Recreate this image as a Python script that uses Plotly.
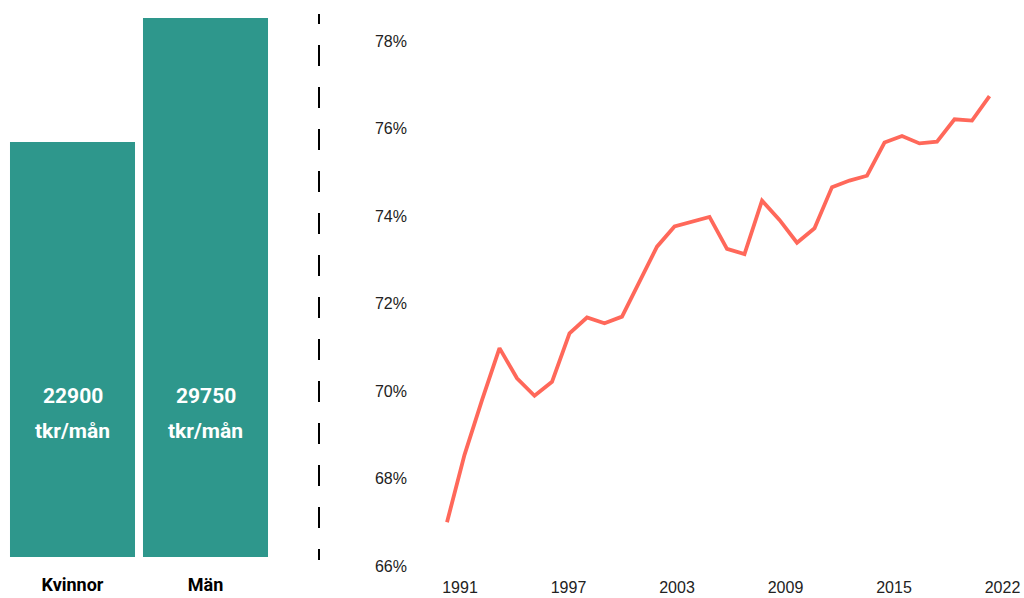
import plotly.graph_objects as go

# ---- data ----
genders = ["Kvinnor", "Män"]
salaries = [22900, 29750]
salary_unit = "tkr/mån"

years = list(range(1991, 2023))
share = [67.0, 68.54, 69.79, 70.98, 70.29, 69.89, 70.21, 71.32, 71.68, 71.55,
         71.70, 72.50, 73.30, 73.76, 73.87, 73.98, 73.25, 73.13, 74.35, 73.91,
         73.39, 73.72, 74.66, 74.81, 74.92, 75.68, 75.83, 75.66, 75.70, 76.21,
         76.18, 76.74]
year_labels = ["1991", "1997", "2003", "2009", "2015", "2022"]
pct_ticks = [66, 68, 70, 72, 74, 76, 78]

W, H = 1024, 598
TEAL = "rgb(46,151,140)"
CORAL = "rgb(255,104,90)"

def py(p):
    return 1 - p / H

def px(p):
    return p / W

fig = go.Figure()
fig.add_trace(go.Bar(x=genders, y=salaries, marker=dict(color=TEAL, line=dict(width=0)),
                     xaxis="x", yaxis="y", hoverinfo="skip", showlegend=False))
fig.add_trace(go.Scatter(x=years, y=share, mode="lines",
                         line=dict(color=CORAL, width=3.8),
                         xaxis="x2", yaxis="y2", showlegend=False))

# evenly spaced year tick labels across the span
span = years[-1] - years[0]
tickpos = [years[0] + i * span / (len(year_labels) - 1) for i in range(len(year_labels))]

annotations = []
for g, v in zip(genders, salaries):
    annotations.append(dict(x=g, y=py(396), xref="x", yref="paper", text=f"<b>{v}</b>",
                            showarrow=False, yanchor="middle",
                            font=dict(family="Roboto", size=21, color="white")))
    annotations.append(dict(x=g, y=py(431), xref="x", yref="paper", text=f"<b>{salary_unit}</b>",
                            showarrow=False, yanchor="middle",
                            font=dict(family="Roboto", size=21, color="white")))

# dash pattern: partial first dash then regular 21/21
dash = "10px,21px," + ",".join(["21px,21px"] * 14)

fig.update_layout(
    width=W, height=H, autosize=False,
    margin=dict(l=0, r=0, t=0, b=0, pad=0, autoexpand=False),
    paper_bgcolor="white", plot_bgcolor="white",
    bargap=0.06,
    xaxis=dict(domain=[px(6), px(272)], range=[-0.5, 1.5], showgrid=False, zeroline=False,
               showline=False, ticks="", fixedrange=True, automargin=False,
               tickfont=dict(family="Roboto", size=18, color="black", weight="bold"),
               ticklabelstandoff=15),
    yaxis=dict(domain=[py(557), py(18)], range=[0, salaries[1]], visible=False, automargin=False),
    xaxis2=dict(domain=[px(440), 1], range=[1991 - 7 / 17.5, 1991 - 7 / 17.5 + (1024 - 440) / 17.5],
                anchor="y2", showgrid=False, zeroline=False, showline=False, ticks="",
                tickvals=tickpos, ticktext=year_labels, ticklabelshift=13,
                ticklabelstandoff=10, automargin=False,
                tickfont=dict(family="Liberation Sans", size=16, color="#222")),
    yaxis2=dict(domain=[py(566), py(41)], range=[66, 78], anchor="x2", showgrid=False,
                zeroline=False, showline=False, ticks="", automargin=False,
                tickvals=pct_ticks, ticktext=[f"{t}%" for t in pct_ticks],
                ticklabelstandoff=32,
                tickfont=dict(family="Liberation Sans", size=16, color="#222")),
    annotations=annotations,
    shapes=[dict(type="line", xref="paper", yref="paper", x0=px(319), x1=px(319),
                 y0=py(14), y1=py(560), line=dict(color="black", width=2, dash=dash))],
)

fig.write_html("out.html", config={"displayModeBar": False, "responsive": False},
               post_script="document.body.style.margin='0';")
